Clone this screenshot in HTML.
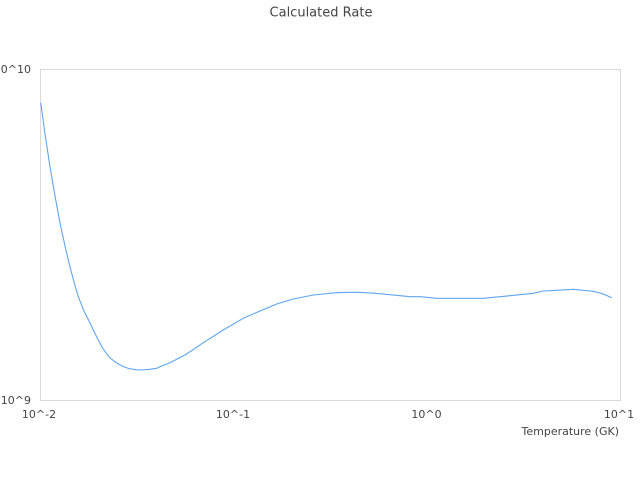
<!DOCTYPE html>
<html>
<head>
<meta charset="utf-8">
<style>
  html,body{margin:0;padding:0;background:#fff;}
  svg{display:block;}
  text{font-family:"DejaVu Sans","Liberation Sans",sans-serif;fill:#444;}
</style>
</head>
<body>
<svg width="640" height="480" viewBox="0 0 640 480" xmlns="http://www.w3.org/2000/svg">
  <rect x="0" y="0" width="640" height="480" fill="#fff"/>
  <text x="321" y="16.5" font-size="13" text-anchor="middle">Calculated Rate</text>
  <rect x="40.5" y="69.5" width="580" height="331" fill="none" stroke="#d9d9d9" stroke-width="1"/>
  <text x="31" y="73" font-size="11" text-anchor="end">10^10</text>
  <text x="31" y="404" font-size="11" text-anchor="end">10^9</text>
  <text x="39" y="418" font-size="11" text-anchor="middle">10^-2</text>
  <text x="233" y="418" font-size="11" text-anchor="middle">10^-1</text>
  <text x="426.5" y="418" font-size="11" text-anchor="middle">10^0</text>
  <text x="619" y="418" font-size="11" text-anchor="middle">10^1</text>
  <text x="619" y="435" font-size="11" text-anchor="end">Temperature (GK)</text>
  <polyline fill="none" stroke="#5ea6ee" stroke-width="1.1" stroke-linejoin="round"
    points="40.8,103 44.7,132 50,166.7 55,196 60,223 65,246 70,267 74,282 78.3,296.7 84,311 90,323 94,331.5 98,339.5 102,347 106.7,354 110,357.8 114,361 118,363.8 121.7,365.7 126,367.6 130,368.8 136,369.7 141.7,370 150,369.3 156.7,368.3 161.7,366 170,362.7 186.7,354 203.3,342.7 223.3,330 243.3,318.3 260,311 276.7,304 293.3,299 313.3,295 336.7,292.7 350,292.3 360,292.3 380,293.7 410,296.7 420,296.7 436.7,298.3 483.3,298.3 510,295.7 533.3,293.3 543.3,291 556.7,290.3 573.3,289.3 593.3,291.3 603.3,294 611.7,297.7"/>
</svg>
</body>
</html>
